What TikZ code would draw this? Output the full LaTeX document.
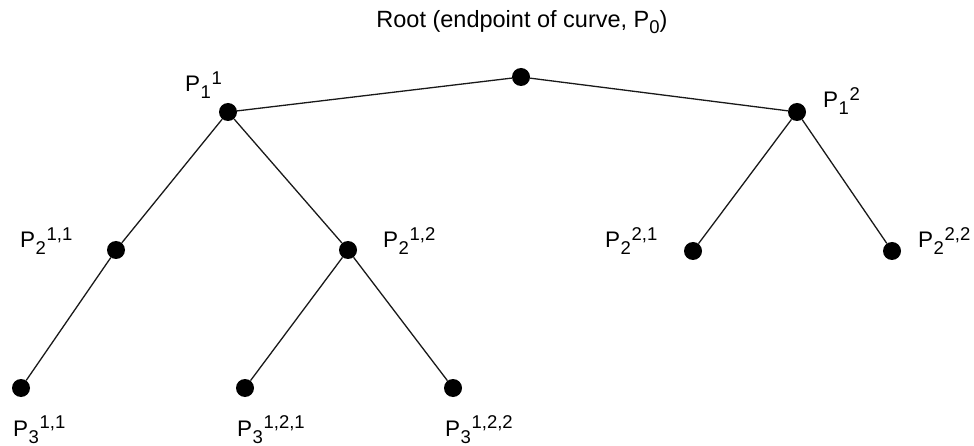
\documentclass[tikz,border=0pt]{standalone}
\usepackage{fontspec}
\setmainfont{Liberation Sans}
\newcommand\Plab[3]{P\kern0.3pt\raisebox{-7pt}{\fontsize{18.5}{19}\selectfont #2}\kern0.8pt\raisebox{7.5pt}{\fontsize{18.5}{19}\selectfont #3}}
\begin{document}
\begin{tikzpicture}[x=1pt,y=-1pt,
  dot/.style={circle,fill=black,inner sep=0pt,minimum size=18pt},
  edge/.style={draw=black!90,line width=1.3pt},
  lbl/.style={anchor=base west,inner sep=0pt,font=\fontsize{22.5}{25}\selectfont}]
\useasboundingbox (0,0) rectangle (974,446);
\node[dot] (r) at (521,77) {};
\node[dot] (a) at (228,112) {};
\node[dot] (b) at (797,112) {};
\node[dot] (aa) at (116,250) {};
\node[dot] (ab) at (348,250) {};
\node[dot] (ba) at (693,251) {};
\node[dot] (bb) at (892,251) {};
\node[dot] (aaa) at (21,388) {};
\node[dot] (aba) at (245,388) {};
\node[dot] (abb) at (453,388) {};
\foreach \u/\v in {r/a,r/b,a/aa,a/ab,aa/aaa,ab/aba,ab/abb,b/ba,b/bb}
  \draw[edge] (\u) -- (\v);
\node[anchor=base,inner sep=0pt,font=\fontsize{23.5}{26}\selectfont] (rt) at (522,28)
  {Root (endpoint of curve, P\raisebox{-6pt}{\fontsize{18.5}{19}\selectfont 0})};
\node[lbl] (la) at (185,92) {\Plab{1}{1}{1}};
\node[lbl] (lb) at (823,108) {\Plab{1}{1}{2}};
\node[lbl] (laa) at (20,248) {\Plab{2}{2}{1,1}};
\node[lbl] (lab) at (383,248) {\Plab{2}{2}{1,2}};
\node[lbl] (lba) at (605,248) {\Plab{2}{2}{2,1}};
\node[lbl] (lbb) at (918,248) {\Plab{2}{2}{2,2}};
\node[lbl] (laaa) at (13,436) {\Plab{3}{3}{1,1}};
\node[lbl] (laba) at (237,436) {\Plab{3}{3}{1,2,1}};
\node[lbl] (labb) at (445,436) {\Plab{3}{3}{1,2,2}};
\end{tikzpicture}
\end{document}
